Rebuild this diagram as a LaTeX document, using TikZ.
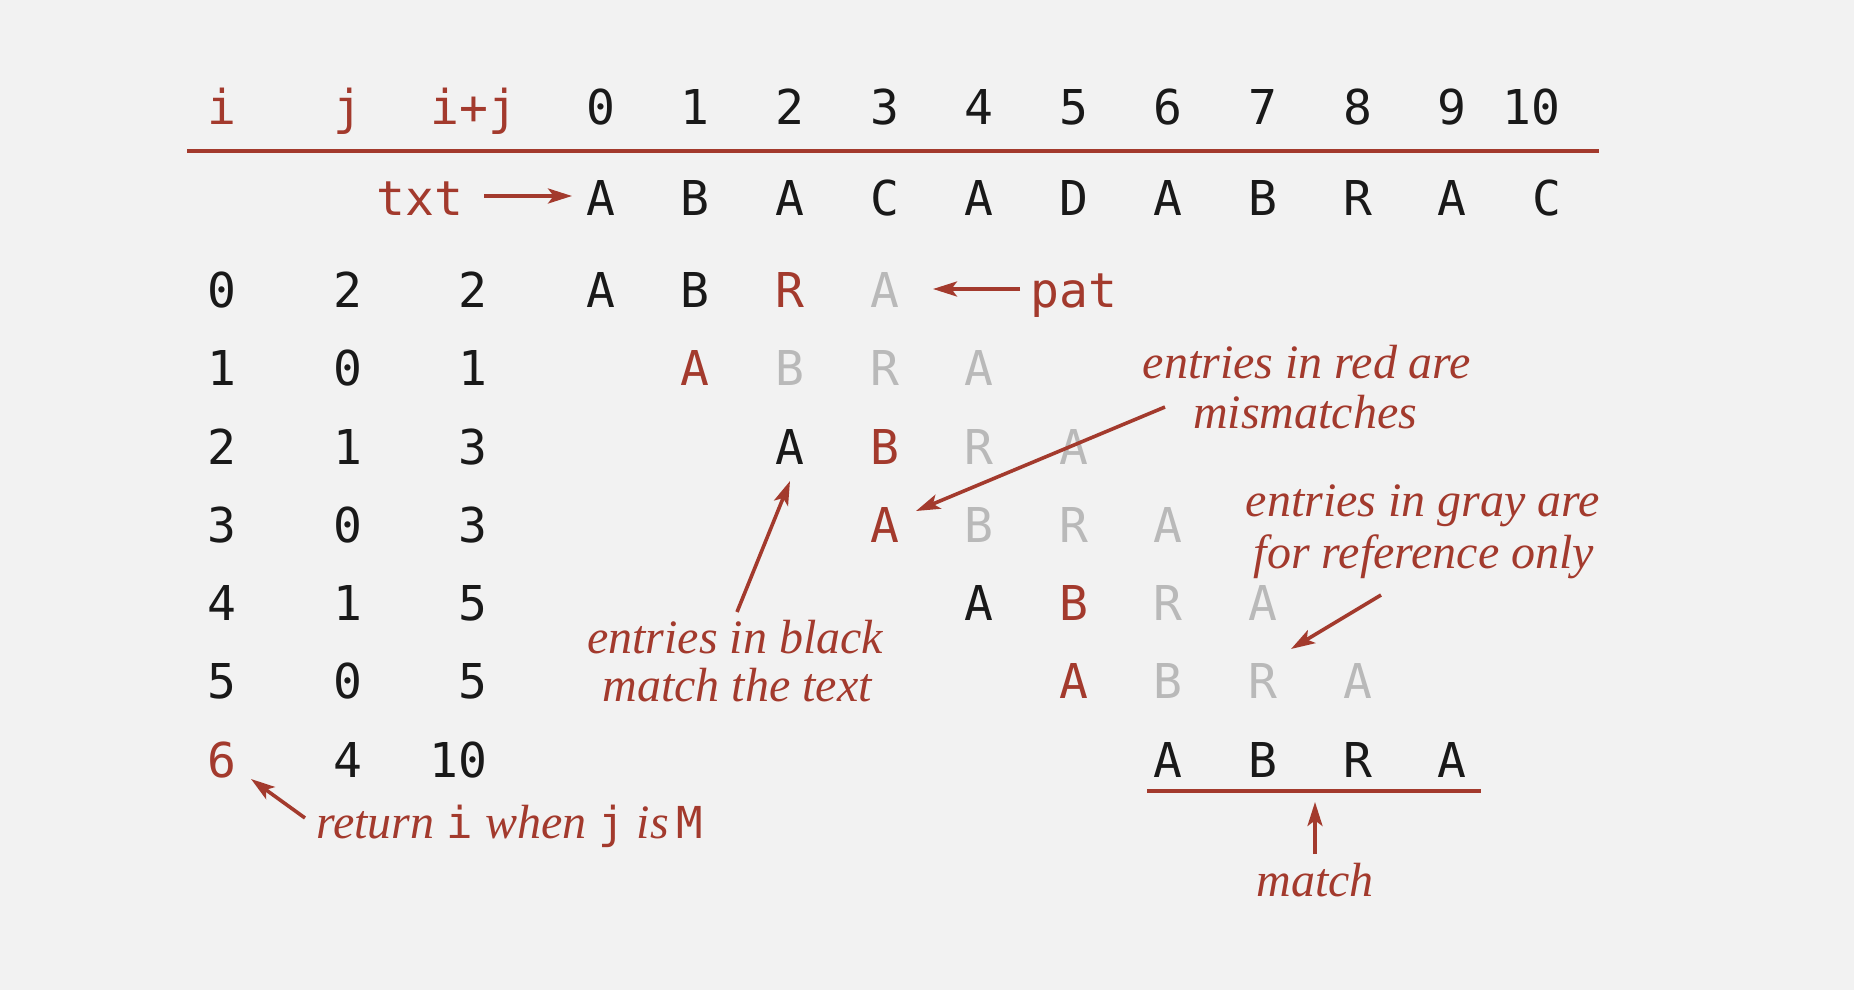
\documentclass[tikz,border=0pt]{standalone}
\usepackage{fontspec}
\usetikzlibrary{arrows.meta}
\newfontfamily\monofont{DejaVu Sans Mono}
\newfontfamily\itfont{Liberation Serif}
\newcommand\mono{\monofont\fontsize{24}{28}\selectfont}
\newcommand\smallmono{\monofont\upshape\fontsize{22}{25}\selectfont}
\newcommand\notefont{\itfont\itshape\fontsize{24}{25}\selectfont}
\definecolor{myred}{RGB}{163,58,45}
\definecolor{lgray}{RGB}{185,185,185}
\definecolor{ink}{RGB}{25,25,25}
\definecolor{bg}{RGB}{242,242,242}
\begin{document}
\begin{tikzpicture}[x=0.5pt,y=-0.5pt,
  cell/.style={font=\mono, text=ink, anchor=base, inner sep=0pt},
  num/.style={cell, anchor=base east},
  note/.style={font=\notefont, text=myred, anchor=base, inner sep=0pt},
  arr/.style={draw=myred, line width=1.8pt, -{Stealth[length=12pt,width=7.5pt,inset=2.8pt]}},
  rulestyle/.style={draw=myred, line width=1.8pt}]
\fill[bg] (0,0) rectangle (1854,990);
\useasboundingbox (0,0) rectangle (1854,990);

% header
\node[cell,text=myred] (hi) at (222,125) {i};
\node[cell,text=myred] (hj) at (348,125) {j};
\node[cell,text=myred] (hij) at (474,125) {i+j};
\foreach \k in {0,...,9} \node[cell] (h\k) at ({600.7+94.6*\k},125) {\k};
\node[num] (h10) at (1561,125) {10};
\coordinate (rl) at (187,151);
\coordinate (rr) at (1599,151);
\draw[rulestyle] (rl) -- (rr);

% text row
\node[cell,text=myred] (txt) at (420,215) {txt};
\foreach \ch [count=\k from 0] in {A,B,A,C,A,D,A,B,R,A,C}
  \node[cell] (t\k) at ({600.7+94.6*\k},215) {\ch};
\coordinate (txa) at (484,196);
\coordinate (txb) at (572,196);
\draw[arr] (txa) -- (txb);

% rows
\foreach \r/\iv/\jv/\ij/\s/\ca/\cb/\cc/\cd/\ic in {
  0/0/2/2/0/ink/ink/myred/lgray/ink,
  1/1/0/1/1/myred/lgray/lgray/lgray/ink,
  2/2/1/3/2/ink/myred/lgray/lgray/ink,
  3/3/0/3/3/myred/lgray/lgray/lgray/ink,
  4/4/1/5/4/ink/myred/lgray/lgray/ink,
  5/5/0/5/5/myred/lgray/lgray/lgray/ink,
  6/6/4/10/6/ink/ink/ink/ink/myred}
{
  \pgfmathsetmacro\yy{307.5+78.25*\r}
  \node[cell,text=\ic] (i\r) at (222,\yy) {\iv};
  \node[cell] (j\r) at (348,\yy) {\jv};
  \node[num] (ij\r) at (488,\yy) {\ij};
  \foreach \ch/\cl [count=\n from 0] in {A/\ca,B/\cb,R/\cc,A/\cd} {
    \pgfmathsetmacro\xx{600.7+94.6*(\s+\n)}
    \node[cell,text=\cl] (p\r-\n) at (\xx,\yy) {\ch};
  }
}

% pat label
\node[cell,text=myred] (pat) at (1074,307.5) {pat};
\coordinate (pta) at (1020,289);
\coordinate (ptb) at (933,289);
\draw[arr] (pta) -- (ptb);

% mismatches note
\node[note] (m1) at (1307,378) {entries in red are};
\node[note] (m2) at (1305,428) {mismatches};
\coordinate (ma) at (1165,407);
\coordinate (mb) at (916,511);
\draw[arr] (ma) -- (mb);

% gray note
\node[note] (g1) at (1423,516) {entries in gray are};
\node[note] (g2) at (1424,568) {for reference only};
\coordinate (ga) at (1381,595);
\coordinate (gb) at (1291,649);
\draw[arr] (ga) -- (gb);

% black note
\node[note] (b1) at (735,653) {entries in black};
\node[note] (b2) at (737,701) {match the text};
\coordinate (ba) at (737,612);
\coordinate (bb) at (790,481);
\draw[arr] (ba) -- (bb);

% return note
\node[note, anchor=base west] (ret) at (316,838) {return {\smallmono i} when {\smallmono j} is\hspace{0.15em}{\smallmono M}};
\coordinate (ra) at (305,818);
\coordinate (rb) at (251,779);
\draw[arr] (ra) -- (rb);

% match
\coordinate (ul) at (1147,791);
\coordinate (ur) at (1481,791);
\draw[rulestyle] (ul) -- (ur);
\node[note] (mt) at (1315,896) {match};
\coordinate (mta) at (1315,854);
\coordinate (mtb) at (1315,802);
\draw[arr] (mta) -- (mtb);
\end{tikzpicture}
\end{document}
